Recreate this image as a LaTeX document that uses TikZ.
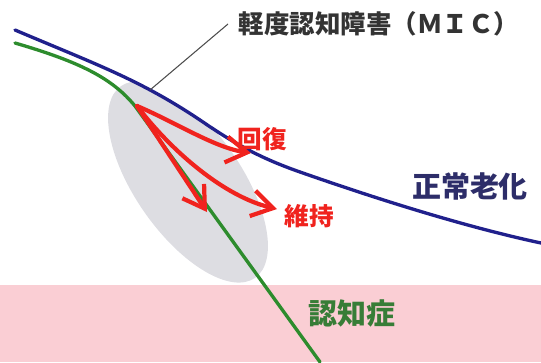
\documentclass[tikz,border=0pt]{standalone}
\usepackage{fontspec}
\newfontfamily\jp{Noto Sans CJK JP}
\usetikzlibrary{arrows.meta}
\definecolor{aging}{RGB}{32,32,140}
\definecolor{agingtext}{RGB}{45,45,105}
\definecolor{dementia}{RGB}{45,140,45}
\definecolor{dementiatext}{RGB}{55,125,55}
\definecolor{redcourse}{RGB}{240,35,30}
\definecolor{band}{RGB}{250,206,212}
\definecolor{mcigray}{RGB}{221,221,226}
\tikzset{turn/.style={draw=redcourse, line width=2.4pt, line cap=round, line join=round,
  -{Straight Barb[length=4.2mm,width=5.2mm]}}}
\tikzset{curve/.style={line width=1.9pt, line cap=round}}
\tikzset{aging path/.style={insert path={(15,30) .. controls (100,66) and (140,80) .. (200,120)
  .. controls (235,144) and (260,158) .. (300,172) .. controls (400,207) and (480,230) .. (541,243)}}}

\begin{document}
\begin{tikzpicture}[x=0.02cm, y=-0.02cm]
\tikzstyle{every node}=[inner sep=0pt]
\tikzstyle{small label}=[font=\jp\bfseries\fontsize{14}{14}\selectfont]
\tikzstyle{big label}=[font=\jp\bfseries\fontsize{16.5}{16.5}\selectfont]
\useasboundingbox (0,0) rectangle (541,362);
\fill[band] (0,285) rectangle (541,362);
\begin{scope}
\clip[aging path] -- (541,362) -- (0,362) -- (0,30) -- cycle;
\fill[mcigray, rotate around={-55:(188,182)}] (188,182) ellipse [x radius=117, y radius=53];
\end{scope}
\draw[curve, aging, aging path];
\draw[curve, dementia] (15,43) .. controls (80,62) and (112,78) .. (135,106) -- (320,362);
\coordinate (o) at (137,106);
\coordinate (kaifuku) at (251,153);
\coordinate (iji) at (277,209);
\coordinate (shinko) at (207,212);
\draw[turn] (o) .. controls (175,122) and (215,148) .. (kaifuku);
\draw[turn] (o) .. controls (172,152) and (225,197) .. (iji);
\draw[turn] (o) -- (shinko);
\node[small label, text=redcourse] (lkaifuku) at (262,139) {回復};
\node[small label, text=redcourse] (liji) at (309,216) {維持};
\node[big label, text=agingtext] (lrojin) at (470,186) {正常老化};
\node[big label, text=dementiatext] (lninchi) at (352,313) {認知症};
\node[small label, anchor=west, inner xsep=6pt, text=black!80, font=\jp\bfseries\fontsize{14.5}{14.5}\selectfont]
  (mci) at (228,24) {軽度認知障害（ＭＩＣ）};
\coordinate (lead) at (150,90);
\draw[black!70, line width=0.6pt] (lead) -- (mci.west);
\end{tikzpicture}
\end{document}
